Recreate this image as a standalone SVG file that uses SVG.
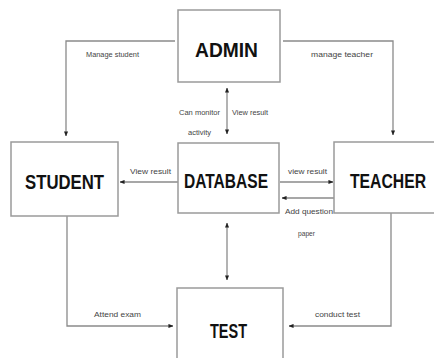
<svg xmlns="http://www.w3.org/2000/svg" width="434" height="358" viewBox="0 0 434 358">
<defs>
<marker id="ah" viewBox="0 0 6 6" refX="5.5" refY="3" markerWidth="5" markerHeight="5" orient="auto-start-reverse" markerUnits="userSpaceOnUse">
<path d="M0,0.5 L6,3 L0,5.5 Z" fill="#222"/>
</marker>
<style>
.box{fill:#fff;stroke:#9a9a9a;stroke-width:1.5}
.t{font-family:"Liberation Sans",Arial,sans-serif;font-weight:bold;font-size:21px;fill:#111;text-anchor:middle}
.l{font-family:"Liberation Sans",Arial,sans-serif;font-size:7.5px;fill:#444}
.c{fill:none;stroke:#8a8a8a;stroke-width:1.3}
</style>
</defs>
<rect width="434" height="358" fill="#fff"/>
<g id="connectors">
<path class="c" d="M175,41 H66 V136" marker-end="url(#ah)"/>
<path class="c" d="M283,41 H393 V135" marker-end="url(#ah)"/>
<path class="c" d="M227,88 V134" marker-start="url(#ah)" marker-end="url(#ah)"/>
<path class="c" d="M178,182 H120" marker-end="url(#ah)"/>
<path class="c" d="M280,182 H333" marker-end="url(#ah)"/>
<path class="c" d="M334,198 H282" marker-end="url(#ah)"/>
<path class="c" d="M227,223 V280" marker-start="url(#ah)" marker-end="url(#ah)"/>
<path class="c" d="M67,216 V326 H173" marker-end="url(#ah)"/>
<path class="c" d="M391,213 V326 H289" marker-end="url(#ah)"/>
<text class="l" x="86" y="57" textLength="53" lengthAdjust="spacingAndGlyphs">Manage student</text>
<text class="l" x="311" y="57" textLength="62" lengthAdjust="spacingAndGlyphs">manage teacher</text>
<text class="l" x="179" y="115" textLength="41" lengthAdjust="spacingAndGlyphs">Can monitor</text>
<text class="l" x="232" y="115" textLength="36" lengthAdjust="spacingAndGlyphs">View result</text>
<text class="l" x="188" y="135" textLength="23" lengthAdjust="spacingAndGlyphs">activity</text>
<text class="l" x="130" y="174" textLength="41" lengthAdjust="spacingAndGlyphs">View result</text>
<text class="l" x="288" y="174" textLength="39" lengthAdjust="spacingAndGlyphs">view result</text>
<text class="l" x="285" y="214" textLength="48" lengthAdjust="spacingAndGlyphs">Add question</text>
<text class="l" x="298" y="236" textLength="17" lengthAdjust="spacingAndGlyphs">paper</text>
<text class="l" x="94" y="317" textLength="47" lengthAdjust="spacingAndGlyphs">Attend exam</text>
<text class="l" x="315" y="317" textLength="45" lengthAdjust="spacingAndGlyphs">conduct test</text>
</g>
<g id="admin">
<rect class="box" x="178" y="10" width="102" height="72"/>
<text class="t" x="226.5" y="57" textLength="63" lengthAdjust="spacingAndGlyphs">ADMIN</text>
</g>
<g id="student">
<rect class="box" x="11" y="142" width="107" height="74"/>
<text class="t" x="64.5" y="189" textLength="79" lengthAdjust="spacingAndGlyphs">STUDENT</text>
</g>
<g id="database">
<rect class="box" x="178" y="143" width="101" height="70"/>
<text class="t" x="226" y="188" textLength="84" lengthAdjust="spacingAndGlyphs">DATABASE</text>
</g>
<g id="teacher">
<rect class="box" x="334" y="142" width="110" height="71"/>
<text class="t" x="388" y="188" textLength="76" lengthAdjust="spacingAndGlyphs">TEACHER</text>
</g>
<g id="test">
<rect class="box" x="177" y="288" width="106" height="80"/>
<text class="t" x="228.5" y="338" textLength="37" lengthAdjust="spacingAndGlyphs">TEST</text>
</g>
</svg>
